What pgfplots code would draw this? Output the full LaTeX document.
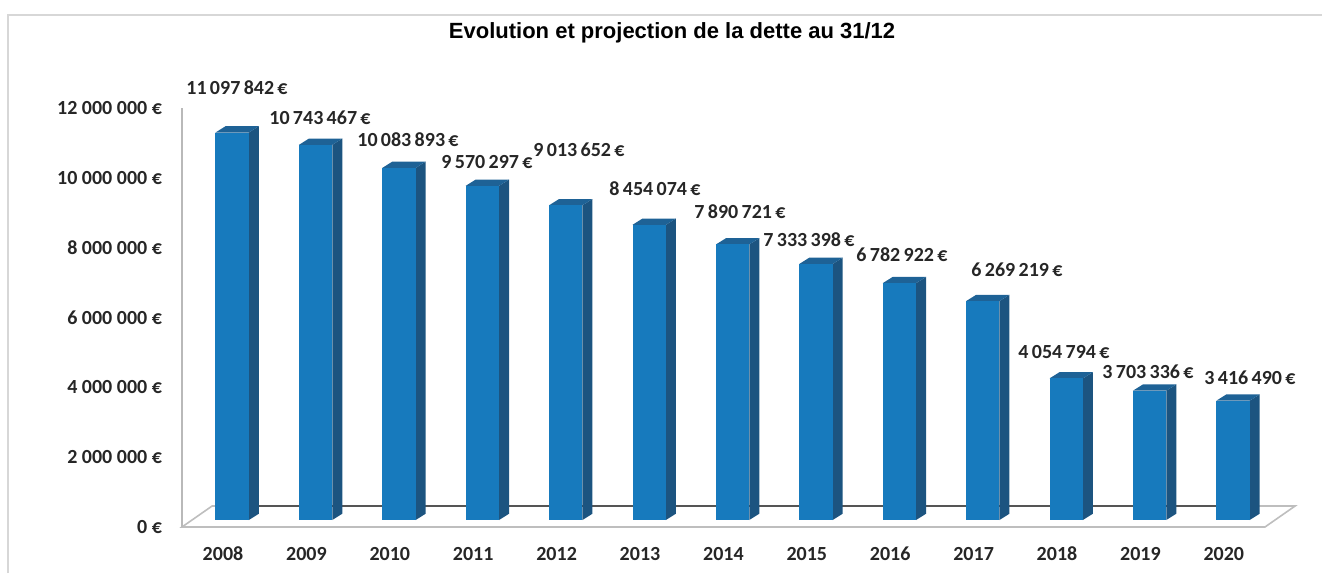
\documentclass[border=0pt]{standalone}
\usepackage{pgfplots}
\usepackage{pgfplotstable}
\pgfplotsset{compat=1.18}
\usepackage{fontspec}
\setmainfont{Carlito}
\newfontfamily\titlefont{Liberation Sans}

\definecolor{barfront}{RGB}{23,122,189}
\definecolor{barside}{RGB}{28,84,128}
\definecolor{bartop}{RGB}{30,98,150}
\definecolor{floorline}{RGB}{190,190,190}
\definecolor{backline}{RGB}{85,85,85}
\definecolor{framecol}{RGB}{215,215,215}

\pgfplotstableread{
x v
0 11097842
1 10743467
2 10083893
3 9570297
4 9013652
5 8454074
6 7890721
7 7333398
8 6782922
9 6269219
10 4054794
11 3703336
12 3416490
}\debt

\pgfplotstableread{
lx ly lab
0.168 12570000 11\,097\,842
1.163 11710000 10\,743\,467
2.218 11080000 10\,083\,893
3.165 10450000 9\,570\,297
4.269 10800000 9\,013\,652
5.180 9680000 8\,454\,074
6.199 9020000 7\,890\,721
7.026 8220000 7\,333\,398
8.141 7790000 6\,782\,922
9.520 7360000 6\,269\,219
10.084 5010000 4\,054\,794
11.091 4440000 3\,703\,336
12.314 4270000 3\,416\,490
}\labels

\begin{document}
\begin{tikzpicture}
\path[use as bounding box] (0,0) rectangle (661pt,286.5pt);
\draw[framecol, line width=1.2pt] (4pt,0) -- (4pt,279pt) -- (662pt,279pt);
\begin{axis}[
  at={(91pt,23pt)}, anchor=south west,
  scale only axis, width=541.5pt, height=209.5pt,
  xmin=-0.4916, xmax=12.494,
  ymin=0, ymax=12000000,
  clip=false,
  axis line style={draw=none},
  tick style={draw=none},
  major tick length=0pt,
  xtick={0,...,12},
  xticklabels={2008,2009,2010,2011,2012,2013,2014,2015,2016,2017,2018,2019,2020},
  ytick={0,2000000,4000000,6000000,8000000,10000000,12000000},
  yticklabels={0 €,2 000 000 €,4 000 000 €,6 000 000 €,8 000 000 €,10 000 000 €,12 000 000 €},
  scaled y ticks=false,
  ticklabel style={font=\fontsize{10pt}{12pt}\selectfont\bfseries, text=black!85},
  yticklabel style={xshift=-6.5pt},
  xticklabel style={yshift=-6.5pt},
  title={\titlefont\bfseries\fontsize{11pt}{13pt}\selectfont Evolution et projection de la dette au 31/12},
  title style={at={(axis description cs:0.4525,1.150)}, anchor=center},
]
% floor
\addplot[fill=white, draw=floorline, line width=0.8pt] coordinates {(-0.4916,0) (12.494,0) (12.854,600000) (-0.1316,600000)} -- cycle;
\addplot[draw=backline, line width=1.2pt] coordinates {(0,600000) (12,600000)};
% y axis line
\addplot[draw=gray!55, line width=0.8pt] coordinates {(-0.4916,0) (-0.4916,12000000)};
% 3D bars
\pgfplotsinvokeforeach{0,...,12}{
  \pgfplotstablegetelem{#1}{v}\of\debt
  \edef\vv{\pgfplotsretval}
  \edef\yf{\the\numexpr\vv+200000\relax}
  \edef\yb{\the\numexpr\vv+380000\relax}
  \pgfmathsetmacro\xl{#1-0.09}
  \pgfmathsetmacro\xr{#1+0.31}
  \pgfmathsetmacro\xlb{#1+0.03}
  \pgfmathsetmacro\xrb{#1+0.43}
  \edef\temp{%
    \noexpand\addplot[draw=none, fill=barside] coordinates {(\xr,200000) (\xrb,380000) (\xrb,\yb) (\xr,\yf)} -- cycle;
    \noexpand\addplot[draw=none, fill=bartop] coordinates {(\xl,\yf) (\xr,\yf) (\xrb,\yb) (\xlb,\yb)} -- cycle;
    \noexpand\addplot[draw=none, fill=barfront] coordinates {(\xl,200000) (\xr,200000) (\xr,\yf) (\xl,\yf)} -- cycle;
  }%
  \temp
}
% data labels
\addplot[only marks, mark=*, mark size=0pt, mark options={draw=none, fill=none},
  point meta=explicit symbolic,
  nodes near coords={\pgfplotspointmeta\,€},
  every node near coord/.append style={anchor=center, font=\fontsize{10pt}{12pt}\selectfont\bfseries, text=black!85, inner sep=0pt},
] table[x=lx, y=ly, meta=lab] {\labels};
\end{axis}
\end{tikzpicture}
\end{document}
